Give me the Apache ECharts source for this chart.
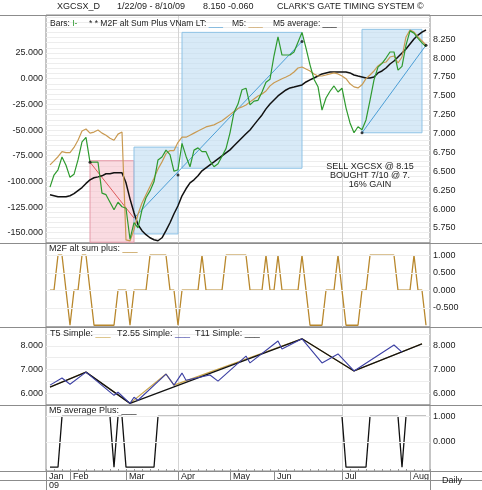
<!DOCTYPE html>
<html>
<head>
<meta charset="utf-8">
<title>XGCSX_D</title>
<script src="https://cdn.jsdelivr.net/npm/echarts@6/dist/echarts.min.js"></script>
<style>
  html, body { margin: 0; padding: 0; background: #fff; }
  #chart { width: 482px; height: 490px; }
</style>
</head>
<body>
<div id="chart"></div>
<script>
var FONT = 'Liberation Sans, Arial, Helvetica, sans-serif';

// x positions: one slot every few trading days, Jan 22 .. Aug 10 2009
var days = [];
for (var d = 0; d < 97; d++) days.push(String(d));
var monthIdx = [0, 6, 20, 33, 46, 57, 74, 91];
var monthNames = ['Jan', 'Feb', 'Mar', 'Apr', 'May', 'Jun', 'Jul', 'Aug'];
var quarterIdx = [33, 74];

// price bars (right axis)
var price = [null,
  6.29, 6.45, 6.52, 6.69, 6.58, 6.42, 6.46, 6.65, 6.89, 6.95,
  6.62, 6.62, 6.62, 6.21, 6.19, 6.09, 5.99, 6.09, 6.03, 6.01,
  5.60, 5.82, 5.75, 5.99, 6.15, 6.24, 6.36, 6.65, 6.69, 6.78,
  6.72, 6.50, 6.52, 6.87, 6.70, 6.56, 6.78, 6.81, 6.76, 6.76,
  6.64, 6.56, 6.60, 6.70, 6.80, 7.01, 7.28, 7.39, 7.58, 7.60,
  7.38, 7.43, 7.44, 7.55, 7.68, 7.72, 8.03, 8.28, 8.04, 8.04,
  8.04, 8.08, 8.21, 8.34, 8.13, 7.91, 7.72, 7.62, 7.31, 7.47,
  7.56, 7.63, 7.55, 7.60, 7.34, 7.14, 7.01, 7.09, 7.05, 7.18,
  7.44, 7.71, 7.88, 7.93, 8.00, 8.08, 8.08, 7.84, 7.89, 8.17,
  8.36, 8.33, 8.26, 8.20, 8.15, null];

// M5 (left axis)
var m5 = [null,
  -84, -80, -76, -71, -72, -72, -67, -60, -51, -49,
  -53, -52, -50, -53, -55, -58, -60, -54, -52, -157,
  -158, -147, -132, -121, -113, -105, -97, -88, -81, -73,
  -70, -70, -62, -57, -57, -55, -53, -51, -49, -47,
  -46, -45, -43, -41, -38, -35, -32, -29, -27.5, -25.6,
  -22.6, -19.7, -16.8, -14.9, -12, -7, -4, -2, 0, 1.7,
  3.6, 6.5, 10.4, 11.4, 9.4, 7.5, 4.6, 2.6, 2.6, 3.6,
  4.6, 5.6, 4.6, 2.6, 0, -5, -8, -9, -6, 0,
  3.6, 7.5, 12.4, 15.3, 16.2, 21.1, 22.1, 15.3, 21.1, 40.6,
  47.4, 45.4, 40.6, 36.7, 32.8, null];

// M5 average (left axis)
var m5avg = [null,
  -113, -114, -115, -115, -115, -114, -112, -109, -106, -102,
  -98.5, -96.5, -95.6, -94.6, -92.6, -92.6, -91.7, -91.7, -91.7, -101.4,
  -117, -130.6, -142.2, -148, -151.9, -154.9, -156.8, -157.8, -154.9, -148,
  -140.3, -131.5, -123.7, -114, -107.2, -101.4, -98.5, -94.6, -89.7, -86.8,
  -83.9, -81, -78, -75.1, -72.2, -69.3, -65.4, -61.5, -57.6, -53.7,
  -49.9, -45, -40.1, -35.3, -29.4, -24.6, -20.7, -16.8, -13.9, -11,
  -9, -8.1, -7.1, -6.1, -3.2, -1.2, 0.7, 2.6, 4.6, 5.6,
  6.5, 6.5, 6.5, 6.5, 6.5, 5.6, 3.6, 2.6, 1.7, 0.7,
  0.7, 1.7, 5.6, 7.5, 10.4, 14.3, 17.2, 21.1, 25, 28.9,
  33.8, 38.6, 42.5, 45.4, 47.4, null];

// trade boxes [startIdx, top, endIdx, bottom]
var sellBoxes = [[11, 6.64, 22, 5.56]];
var buyBoxes = [[22, 6.82, 33, 5.67], [34, 8.34, 64, 6.54], [79, 8.38, 94, 7.01]];
var sellLineIdx = [11, 22], sellLineVal = [6.62, 5.88];
var buyLine1Idx = [22, 64], buyLine1Val = [5.88, 8.22];
var buyLine2Idx = [79, 95], buyLine2Val = [7.01, 8.17];
var signalIdx = [11, 33, 64, 79, 95];
var signalVal = [6.62, 6.45, 8.22, 7.01, 8.17];

// M2F alt sum plus
var m2f = [null,
  0, 0, 1, 1, 0, -1, 0, 0, 1, 1,
  0, -1, -1, -1, -1, -1, -1, 0, 0, 0,
  -1, 0, 0, 0, 0, 1, 1, 1, 1, 1,
  0, 0, -1, 0, 0, 0, 0, 0, 1, 0,
  0, 0, 0, 0, 1, 1, 1, 1, 1, 1,
  0, 0, 0, 0, 1, 0, 0, 1, 0, 0,
  0, 0, 0, 1, 0, -1, -1, -1, -1, 0,
  0, 0, 1, 0, -1, -1, -1, -1, 0, 0,
  1, 1, 1, 1, 1, 1, 1, 0, 0, 0,
  0, 1, 0, 0, -1, null];

// zigzag pivots
var t5Idx = [1, 10, 21, 30, 32, 64, 77, 94];
var t5Val = [6.26, 6.89, 5.57, 6.81, 6.34, 8.30, 6.94, 8.09];
var t255Idx = [1, 4, 6, 10, 17, 18, 21, 22, 23, 30, 32, 34, 35, 41, 43, 50, 51, 58, 59, 64, 69, 73, 77, 87, 89];
var t255Val = [6.34, 6.64, 6.38, 6.89, 5.91, 6.04, 5.57, 5.83, 5.70, 6.81, 6.34, 6.85, 6.55, 6.77, 6.51,
  7.57, 7.28, 8.21, 7.87, 8.30, 7.28, 7.66, 6.94, 8.04, 7.74];
var t11Idx = [1, 10, 21, 64, 77, 94];
var t11Val = [6.26, 6.89, 5.57, 8.30, 6.94, 8.09];

// M5 average Plus
var m5plus = [null,
  -1, -1, -1, 1, 1, 1, 1, 1, 1, 1,
  1, 1, 1, 1, 1, 1, -1, 1, 1, -1,
  -1, -1, -1, -1, -1, -1, -1, 1, 1, 1,
  1, 1, 1, 1, 1, 1, 1, 1, 1, 1,
  1, 1, 1, 1, 1, 1, 1, 1, 1, 1,
  1, 1, 1, 1, 1, 1, 1, 1, 1, 1,
  1, 1, 1, 1, 1, 1, 1, 1, 1, 1,
  1, 1, 1, 1, -1, -1, -1, -1, -1, -1,
  1, 1, 1, 1, 1, 1, 1, 1, -1, 1,
  1, 1, 1, 1, 1, null];

function pairs(idx, val) {
  var out = [];
  for (var i = 0; i < idx.length; i++) out.push([idx[i], val[i]]);
  return out;
}
function onStep(v, step) {
  var q = v / step;
  return Math.abs(q - Math.round(q)) < 1e-6;
}
function stepLabels(step, lo, hi) {
  return function (v) {
    return (onStep(v, step) && v >= lo - 1e-6 && v <= hi + 1e-6) ? v.toFixed(3) : '';
  };
}
function boxItems(list, fill, border) {
  return list.map(function (b) {
    return [{ xAxis: b[0], yAxis: b[1], itemStyle: { color: fill, borderColor: border, borderWidth: 1 } },
            { xAxis: b[2], yAxis: b[3] }];
  });
}
function isMonth(i) { return monthIdx.indexOf(i) >= 0; }
function isQuarter(i) { return quarterIdx.indexOf(i) >= 0; }

var AXIS_LABEL = { fontSize: 9, color: '#222', fontFamily: FONT, margin: 3 };
function grid(top, h) {
  return { left: 46, right: 52, top: top, height: h, show: true, borderColor: '#8c8c8c', borderWidth: 1,
    backgroundColor: 'transparent', containLabel: false, outerBoundsMode: 'none' };
}
function xHidden(g) {
  return { type: 'category', gridIndex: g, data: days, boundaryGap: false, position: 'bottom',
    axisLine: { show: false, onZero: false }, axisTick: { show: false }, axisLabel: { show: false },
    splitLine: { show: true, interval: function (i) { return isQuarter(i); }, lineStyle: { color: '#d4d4d4', width: 1 } } };
}
function yAx(g, pos, min, max, interval, fmt, split) {
  return { type: 'value', gridIndex: g, position: pos, min: min, max: max, interval: interval,
    axisLine: { show: false }, axisTick: { show: false },
    axisLabel: Object.assign({ formatter: fmt, showMinLabel: true, showMaxLabel: true }, AXIS_LABEL),
    splitLine: { show: !!split, lineStyle: { color: '#ededed', width: 1 } } };
}

var xBottom = xHidden(3);
xBottom.axisLine = { show: true, onZero: false, lineStyle: { color: '#8c8c8c' } };
xBottom.axisTick = { show: true, interval: function (i) { return isMonth(i); }, length: 9, lineStyle: { color: '#8c8c8c' } };
xBottom.axisLabel = { show: true, interval: function (i) { return isMonth(i); },
  formatter: function (v, i) { var k = monthIdx.indexOf(i); return k === 0 ? 'Jan\n09' : monthNames[k]; },
  align: 'left', verticalAlign: 'top', padding: [0, 0, 0, 3], margin: 1, lineHeight: 9,
  fontSize: 9, color: '#222', fontFamily: FONT };
var xWeeks = { type: 'category', gridIndex: 3, data: days, boundaryGap: false, position: 'bottom',
  axisLine: { show: false, onZero: false }, axisLabel: { show: false }, splitLine: { show: false },
  axisTick: { show: true, inside: true, length: 2, interval: 1, lineStyle: { color: '#999' } } };

function lineSeries(x, y, data, color, width, z) {
  return { type: 'line', xAxisIndex: x, yAxisIndex: y, data: data, symbol: 'none', silent: true,
    lineStyle: { color: color, width: width }, itemStyle: { color: color }, z: z || 3 };
}

var boxSeries = lineSeries(0, 1, [], '#000', 0, 1);
boxSeries.markArea = { silent: true, data: boxItems(sellBoxes, 'rgba(245,190,200,0.55)', '#e59aa8')
  .concat(boxItems(buyBoxes, 'rgba(190,220,242,0.6)', '#8fc3e6')) };

var m2fSeries = lineSeries(1, 2, m2f, '#b8872c', 1.3);
m2fSeries.markLine = { silent: true, symbol: 'none', label: { show: false },
  lineStyle: { color: '#eeeeee', type: 'solid', width: 1 },
  data: [{ yAxis: 1 }, { yAxis: 0.5 }, { yAxis: 0 }, { yAxis: -0.5 }] };
var plusSeries = lineSeries(3, 5, m5plus, '#111', 1.3);
plusSeries.markLine = { silent: true, symbol: 'none', label: { show: false },
  lineStyle: { color: '#eeeeee', type: 'solid', width: 1 },
  data: [{ yAxis: 1 }, { yAxis: 0 }] };

function txt(x, y, parts, align, size) {
  var f = (size || 9) + 'px ' + FONT;
  var s = '', rich = {};
  parts.forEach(function (p, i) { s += '{p' + i + '|' + p[0] + '}'; rich['p' + i] = { fill: p[1], font: f }; });
  return { type: 'text', x: x, y: y, silent: true, z: 50,
    style: { text: s, rich: rich, font: f, align: align || 'left', verticalAlign: 'middle' } };
}
function hline(y, x1, x2) {
  return { type: 'line', silent: true, z: 40, shape: { x1: x1, y1: y, x2: x2, y2: y },
    style: { stroke: '#8c8c8c', lineWidth: 1 } };
}
function vline(x, y1, y2) {
  return { type: 'line', silent: true, z: 40, shape: { x1: x, y1: y1, x2: x, y2: y2 },
    style: { stroke: '#8c8c8c', lineWidth: 1 } };
}

var K = '#222';
var option = {
  animation: false,
  backgroundColor: '#fff',
  textStyle: { fontFamily: FONT },
  grid: [grid(15, 228), grid(243, 84), grid(327, 78), grid(405, 66)],
  xAxis: [xHidden(0), xHidden(1), xHidden(2), xBottom, xWeeks],
  yAxis: [
    yAx(0, 'left', -160, 62, 5, stepLabels(25, -150, 25), true),
    yAx(0, 'right', 5.55, 8.57, 0.05, stepLabels(0.25, 5.75, 8.25), false),
    yAx(1, 'right', -1.05, 1.35, 0.05, stepLabels(0.5, -0.5, 1), false),
    yAx(2, 'left', 5.5, 8.8, 0.5, stepLabels(1, 6, 8), true),
    yAx(2, 'right', 5.5, 8.8, 0.5, stepLabels(1, 6, 8), false),
    yAx(3, 'right', -1.15, 1.45, 0.05, stepLabels(1, 0, 1), false)
  ],
  series: [
    boxSeries,
    lineSeries(0, 1, pairs(sellLineIdx, sellLineVal), '#dd5a5a', 1, 2),
    lineSeries(0, 1, pairs(buyLine1Idx, buyLine1Val), '#4b9ed6', 1, 2),
    lineSeries(0, 1, pairs(buyLine2Idx, buyLine2Val), '#4b9ed6', 1, 2),
    lineSeries(0, 0, m5avg, '#111', 1.5),
    lineSeries(0, 0, m5, '#c99a52', 1.2),
    lineSeries(0, 1, price, '#2e9a2e', 1.2, 4),
    { type: 'scatter', xAxisIndex: 0, yAxisIndex: 1, data: pairs(signalIdx, signalVal), symbolSize: 3,
      itemStyle: { color: '#111' }, silent: true, z: 5 },
    m2fSeries,
    lineSeries(2, 4, pairs(t5Idx, t5Val), '#c9a44a', 1.2),
    lineSeries(2, 4, pairs(t11Idx, t11Val), '#111', 1.3),
    lineSeries(2, 4, pairs(t255Idx, t255Val), '#3b3fa3', 1.1),
    plusSeries
  ],
  graphic: { elements: [
    hline(15.5, 0, 482), hline(243.5, 0, 482), hline(327.5, 0, 482), hline(405.5, 0, 482),
    hline(471.5, 0, 482), hline(480.5, 0, 482),
    vline(46.5, 471, 490), vline(430.5, 471, 490),
    txt(57, 7, [['XGCSX_D', K]]),
    txt(117, 7, [['1/22/09 - 8/10/09', K]]),
    txt(203, 7, [['8.150', K]]),
    txt(228, 7, [['-0.060', K]]),
    txt(277, 7, [['CLARK\'S GATE TIMING SYSTEM \u00a9', K]]),
    txt(50, 24, [['Bars: ', K], ['I-', '#2e9a2e']], 'left', 8.5),
    txt(89, 24, [['* * M2F alt Sum Plus VNam LT: ', K], ['___', '#4b9ed6']], 'left', 8.5),
    txt(232, 24, [['M5: ', K], ['___', '#c99a52']], 'left', 8.5),
    txt(273, 24, [['M5 average: ', K], ['___', '#111']], 'left', 8.5),
    txt(49, 249, [['M2F alt sum plus: ', K], ['___', '#b8872c']]),
    txt(50, 334, [['T5 Simple: ', K], ['___', '#c9a44a']]),
    txt(117, 334, [['T2.55 Simple: ', K], ['___', '#3b3fa3']]),
    txt(195, 334, [['T11 Simple: ', K], ['___', '#111']]),
    txt(49, 411, [['M5 average Plus: ', K], ['___', '#111']]),
    txt(370, 167, [['SELL XGCSX @ 8.15', K]], 'center'),
    txt(370, 176, [['BOUGHT 7/10 @ 7.', K]], 'center'),
    txt(370, 185, [['16% GAIN', K]], 'center'),
    txt(452, 481, [['Daily', K]], 'center')
  ] }
};

var chart = echarts.init(document.getElementById('chart'), null, { renderer: 'canvas' });
chart.setOption(option);
</script>
</body>
</html>
